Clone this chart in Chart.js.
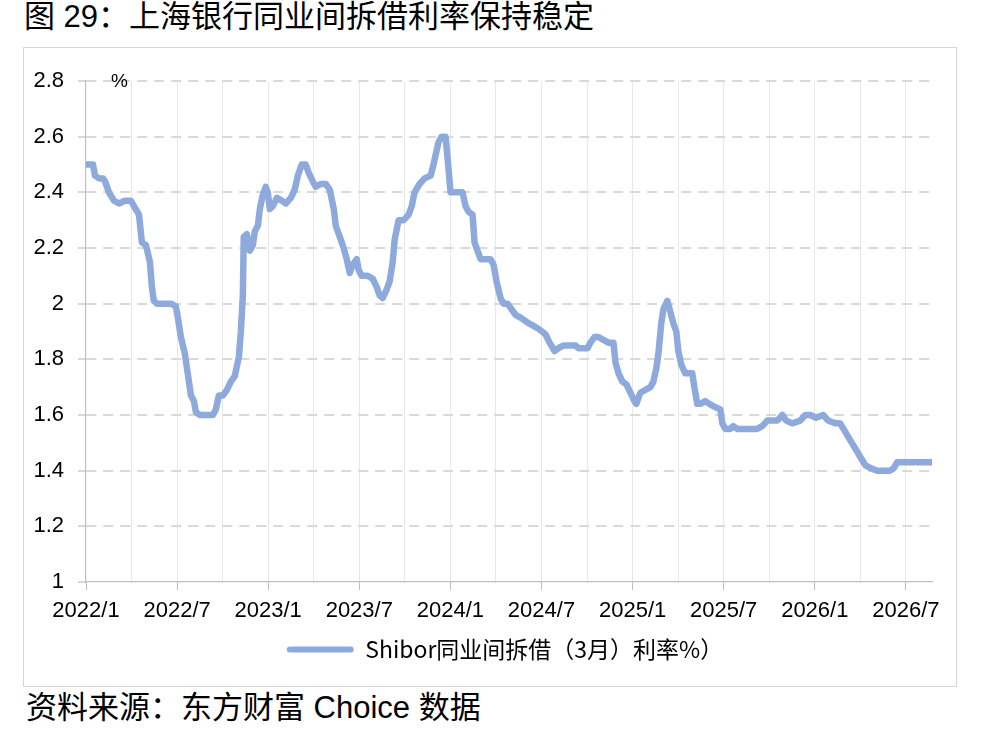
<!DOCTYPE html>
<html>
<head>
<meta charset="utf-8">
<script src="https://cdn.jsdelivr.net/npm/chart.js@4.4.1/dist/chart.umd.min.js"></script>
<style>
  body { margin: 0; background: #fff; width: 997px; height: 733px; position: relative; overflow: hidden;
         font-family: "Liberation Sans", "Noto Sans CJK SC", sans-serif; color: #000; }
  #title { position: absolute; left: 24px; top: 0px; font-size: 31px; line-height: 34px; white-space: nowrap; }
  #box { position: absolute; left: 23px; top: 47px; width: 932px; height: 638px; border: 1px solid #d6d6d6; }
  #unit { position: absolute; left: 87px; top: 22px; font-size: 19px; line-height: 22px; }
  #source { position: absolute; left: 26px; top: 691px; font-size: 31px; line-height: 34px; white-space: nowrap; }
  canvas { display: block; }
</style>
</head>
<body>
<div id="title">图 29：上海银行同业间拆借利率保持稳定</div>
<div id="box">
  <canvas id="chart" width="932" height="638"></canvas>
  <div id="unit">%</div>
</div>
<div id="source">资料来源：东方财富 Choice 数据</div>

<script>
// ---------- DATA ----------
// months since 2022/1
const months = [
  0, 0.46, 0.59, 0.86, 1.12, 1.25, 1.51, 1.84, 2.17, 2.57, 2.96, 3.16, 3.49, 3.68, 3.95, 4.21, 4.34, 4.47, 4.67,
  5.59, 5.92, 6.05, 6.25, 6.51, 6.78, 6.91, 7.11, 7.24, 7.5, 7.89, 8.36, 8.55, 8.75, 9.01, 9.28, 9.54, 9.8,
  10.07, 10.2, 10.33, 10.39, 10.59, 10.79, 10.99, 11.12, 11.32, 11.45, 11.64, 11.84, 11.97, 12.11, 12.3, 12.57,
  12.89, 13.16, 13.49, 13.75, 13.95, 14.21, 14.47, 14.67, 14.93, 15.13, 15.46, 15.79, 16.05, 16.32, 16.45,
  16.78, 16.97, 17.17, 17.37, 17.57, 17.83, 17.96, 18.16, 18.55, 18.88, 19.14, 19.34, 19.54, 19.8, 20, 20.2,
  20.33, 20.59, 20.92, 21.25, 21.45, 21.64, 21.97, 22.3, 22.7, 22.89, 23.09, 23.22, 23.42, 23.68, 23.82, 24.01,
  24.34, 24.8, 25, 25.2, 25.46, 25.59, 25.79, 25.99, 26.32, 26.64, 26.84, 27.04, 27.3, 27.5, 27.76, 28.03,
  28.29, 28.62, 28.88, 29.14, 29.47, 29.8, 30.26, 30.53, 30.86, 31.12, 31.45, 31.91, 32.24, 32.43, 32.76,
  33.03, 33.22, 33.49, 33.75, 34.08, 34.41, 34.74, 34.87, 35.07, 35.33, 35.59, 35.86, 36.12, 36.25, 36.51,
  36.84, 37.17, 37.37, 37.57, 37.7, 37.89, 38.03, 38.29, 38.49, 38.68, 38.88, 39.01, 39.21, 39.47, 39.93,
  40.07, 40.26, 40.46, 40.79, 41.05, 41.38, 41.78, 41.91, 42.11, 42.43, 42.63, 42.89, 43.22, 43.75, 44.21,
  44.54, 44.87, 45.2, 45.53, 45.86, 46.12, 46.51, 47.04, 47.37, 47.7, 48.09, 48.55, 48.88, 49.34, 49.67, 50,
  50.33, 50.66, 50.99, 51.32, 51.64, 52.11, 52.57, 52.96, 53.22, 53.42, 53.75, 54.08, 54.61, 55.26, 55.72
];
// Shibor 3M, %
const shibor = [
  2.50, 2.50, 2.46, 2.45, 2.45, 2.44, 2.40, 2.37, 2.36, 2.37, 2.37, 2.35, 2.32, 2.22, 2.21, 2.15, 2.06, 2.01, 2.00,
  2.00, 1.99, 1.95, 1.88, 1.82, 1.72, 1.67, 1.65, 1.61, 1.60, 1.60, 1.60, 1.62, 1.67, 1.67, 1.69, 1.72, 1.74,
  1.81, 1.90, 2.03, 2.24, 2.25, 2.19, 2.21, 2.26, 2.28, 2.34, 2.39, 2.42, 2.40, 2.34, 2.35, 2.38,
  2.37, 2.36, 2.38, 2.41, 2.46, 2.50, 2.50, 2.47, 2.44, 2.42, 2.43, 2.43, 2.41, 2.34, 2.28,
  2.23, 2.20, 2.16, 2.11, 2.14, 2.16, 2.12, 2.10, 2.10, 2.09, 2.06, 2.03, 2.02, 2.05, 2.08, 2.15,
  2.23, 2.30, 2.30, 2.32, 2.35, 2.40, 2.43, 2.45, 2.46, 2.50, 2.55, 2.58, 2.60, 2.60, 2.52, 2.40,
  2.40, 2.40, 2.35, 2.33, 2.32, 2.22, 2.19, 2.16, 2.16, 2.16, 2.14, 2.08, 2.02, 2.00, 2.00, 1.98,
  1.96, 1.95, 1.94, 1.93, 1.92, 1.91, 1.89, 1.86, 1.83, 1.84, 1.85, 1.85, 1.85, 1.84, 1.84,
  1.84, 1.86, 1.88, 1.88, 1.87, 1.86, 1.86, 1.79, 1.75, 1.72, 1.71, 1.68, 1.65, 1.64, 1.68,
  1.69, 1.70, 1.72, 1.77, 1.82, 1.93, 1.98, 2.01, 1.97, 1.93, 1.90, 1.83, 1.78, 1.75, 1.75,
  1.70, 1.64, 1.64, 1.65, 1.64, 1.63, 1.62, 1.57, 1.55, 1.55, 1.56, 1.55, 1.55, 1.55, 1.55,
  1.56, 1.58, 1.58, 1.58, 1.60, 1.58, 1.57, 1.58, 1.60, 1.60, 1.59, 1.60, 1.58, 1.57, 1.57, 1.54,
  1.51, 1.48, 1.45, 1.42, 1.41, 1.40, 1.40, 1.40, 1.41, 1.43, 1.43, 1.43, 1.43, 1.43, 1.43
];

const xTickLabels = ["2022/1", "2022/7", "2023/1", "2023/7", "2024/1", "2024/7", "2025/1", "2025/7", "2026/1", "2026/7"];
const yTickLabels = ["1", "1.2", "1.4", "1.6", "1.8", "2", "2.2", "2.4", "2.6", "2.8"];
const seriesName = "Shibor同业间拆借（3月）利率%）";

// ---------- STYLE ----------
const lineColor = "#8eaadc";
const axisColor = "#bfbfbf";
const xMax = 55.72;
const legendShift = 27; // legend sits a bit right of the canvas centre

// nudge the legend to the right after layout
const legendNudge = {
  id: "legendNudge",
  afterLayout(chart) {
    if (chart.legend) {
      chart.legend.left += legendShift;
      chart.legend.right += legendShift;
    }
  },
};

// ---------- CHART ----------
const ctx = document.getElementById("chart");

new Chart(ctx, {
  type: "line",
  data: {
    datasets: [
      {
        label: seriesName,
        data: months.map((m, i) => ({ x: m, y: shibor[i] })),
        borderColor: lineColor,
        backgroundColor: lineColor,
        borderWidth: 6.5,
        borderJoinStyle: "round",
        borderCapStyle: "round",
        pointRadius: 0,
        tension: 0,
      },
    ],
  },
  options: {
    responsive: false,
    animation: false,
    layout: { padding: { left: 0, right: 24, top: 33, bottom: 15 } },
    scales: {
      x: {
        type: "linear",
        min: 0,
        max: xMax,
        afterBuildTicks: (scale) => {
          const ticks = [];
          for (let m = 0; m <= 54; m += 3) ticks.push({ value: m });
          scale.ticks = ticks;
        },
        afterFit: (scale) => { scale.height = 46; },
        ticks: {
          autoSkip: false,
          maxRotation: 0,
          padding: 8,
          color: "#000",
          font: { family: "Liberation Sans", size: 22 },
          callback: (v) => (v % 6 === 0 ? xTickLabels[v / 6] : ""),
        },
        grid: {
          color: (c) => (c.tick && c.tick.value === 0 ? "rgba(0,0,0,0)" : "#e8e8e8"),
          lineWidth: 1,
          tickLength: 8,
          tickColor: (c) => (c.tick && c.tick.value % 6 === 0 ? axisColor : "rgba(0,0,0,0)"),
        },
        border: { color: axisColor, width: 1.2 },
      },
      y: {
        min: 1,
        max: 2.8,
        afterBuildTicks: (scale) => {
          scale.ticks = yTickLabels.map((t) => ({ value: parseFloat(t) }));
        },
        afterFit: (scale) => { scale.width = 62; },
        ticks: {
          padding: 14,
          color: "#000",
          font: { family: "Liberation Sans", size: 22 },
          callback: (v) => yTickLabels.find((t) => Math.abs(parseFloat(t) - v) < 1e-6),
        },
        grid: {
          color: (c) => (c.tick && c.tick.value === 1 ? "rgba(0,0,0,0)" : "#d9d9d9"),
          lineWidth: 2,
          tickLength: 8,
          tickColor: axisColor,
          tickBorderDash: [],
          tickWidth: 1.2,
        },
        border: { color: axisColor, width: 1.2, dash: [10, 7] },
      },
    },
    plugins: {
      tooltip: { enabled: false },
      legend: {
        position: "bottom",
        labels: {
          boxWidth: 67,
          boxHeight: 6,
          padding: 10,
          color: "#000",
          font: { family: "Noto Sans CJK SC", size: 23 },
          useBorderRadius: true,
          borderRadius: 3,
          generateLabels: (chart) =>
            Chart.defaults.plugins.legend.labels.generateLabels(chart).map((l) => ({
              ...l,
              lineWidth: 0,
              fillStyle: lineColor,
            })),
        },
      },
    },
  },
  plugins: [legendNudge],
});
</script>
</body>
</html>
